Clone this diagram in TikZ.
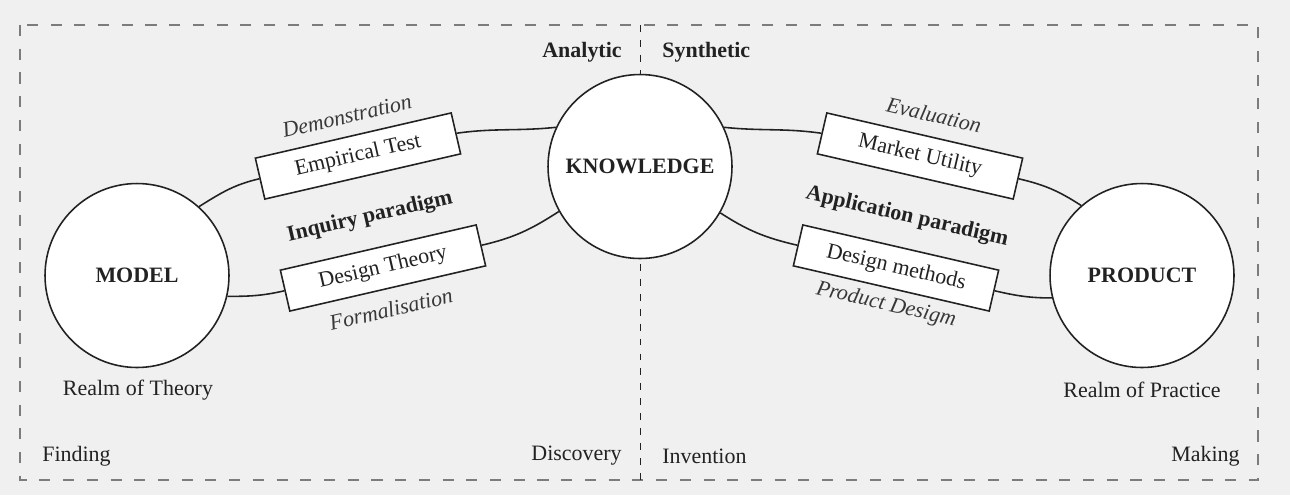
\documentclass[tikz,border=0pt]{standalone}
\usepackage{fontspec}
\setmainfont{Liberation Serif}
\usepackage{tikz}
\usetikzlibrary{positioning}
\definecolor{paper}{HTML}{F0F0F0}
\definecolor{pen}{HTML}{222222}
\definecolor{frame}{HTML}{7C7C7C}
\newcommand{\txt}{\fontsize{12.5}{15}\selectfont}

\begin{document}
\begin{tikzpicture}[x=0.02cm,y=0.02cm,
   realm/.style={circle,draw=pen,line width=0.9pt,fill=white,inner sep=0pt,minimum size=3.68cm,font=\txt\bfseries,text=pen},
   act/.style={draw=pen,line width=0.9pt,fill=white,inner sep=0pt,minimum width=4.02cm,minimum height=0.84cm,font=\txt,text=pen},
   tag/.style={font=\txt\itshape,text=pen!90,inner sep=0pt},
   head/.style={font=\txt\bfseries,text=pen,inner sep=0pt},
   note/.style={font=\txt,text=pen,inner sep=0pt},
   arc/.style={draw=pen,line width=0.9pt}]
  \useasboundingbox (0,0) rectangle (1290,-495);
  \fill[paper] (0,0) rectangle (1290,-495);
  % frame and divide
  \draw[frame,line width=0.9pt,dash pattern=on 7\pgflinewidth off 8\pgflinewidth] (20,-25) rectangle (1258,-480);
  \draw[pen,line width=0.5pt,dash pattern=on 3.9pt off 4.6pt] (640,-25) -- (640,-480);
  \node[head,anchor=east] (ana) at (622,-52) {Analytic};
  \node[head,anchor=west] (syn) at (662,-52) {Synthetic};
  % realms
  \node[realm] (know) at (640,-166.5) {KNOWLEDGE};
  \node[realm] (model) at (137,-275.5) {MODEL};
  \node[realm] (prod) at (1142,-275.5) {PRODUCT};
  \node[note] (theo) at (138,-390) {Realm of Theory};
  \node[note] (prac) at (1142,-390) {Realm of Practice};
  % inquiry side
  \node[act,rotate=13] (emp) at (358,-156) {Empirical Test};
  \node[act,rotate=13] (dthe) at (383,-268) {Design Theory};
  \node[tag,rotate=13] (demo) at (347,-116) {Demonstration};
  \node[head,rotate=13] (inq) at (370,-217) {Inquiry paradigm};
  \node[tag,rotate=13] (form) at (391,-309) {Formalisation};
  \draw[arc] (model.48) to[out=32,in=193] (emp.west);
  \draw[arc] (emp.east) to[out=8,in=186] (know.155);
  \draw[arc] (model.-13) to[out=0,in=193] (dthe.west);
  \draw[arc] (dthe.east) to[out=13,in=213] (know.209);
  % application side
  \node[act,rotate=-13] (mkt) at (920,-156) {Market Utility};
  \node[act,rotate=-13] (dmet) at (896,-268) {Design methods};
  \node[tag,rotate=-13] (eval) at (934,-115) {Evaluation};
  \node[head,rotate=-13] (appl) at (907,-217) {Application paradigm};
  \node[tag,rotate=-13] (pdes) at (886,-305) {Product Desigm};
  \draw[arc] (know.25) to[out=-6,in=172] (mkt.west);
  \draw[arc] (mkt.east) to[out=-13,in=147] (prod.131);
  \draw[arc] (know.-30) to[out=-33,in=167] (dmet.west);
  \draw[arc] (dmet.east) to[out=-13,in=180] (prod.194);
  % corners
  \node[note,anchor=west] (find) at (42,-456) {Finding};
  \node[note,anchor=east] (disc) at (622,-456) {Discovery};
  \node[note,anchor=west] (inv) at (662,-456) {Invention};
  \node[note,anchor=east] (mak) at (1240,-456) {Making};
\end{tikzpicture}
\end{document}
